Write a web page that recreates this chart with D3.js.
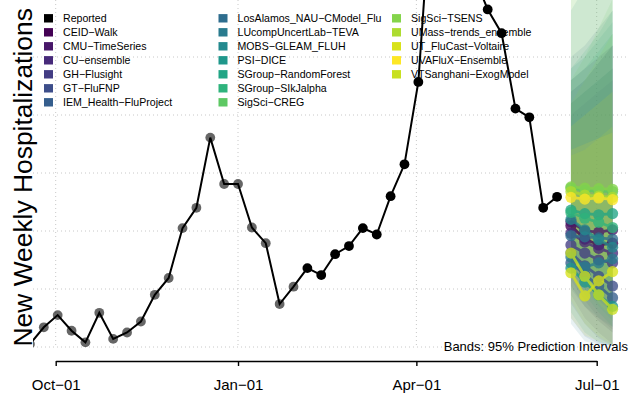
<!DOCTYPE html>
<html lang="en">
<head>
<meta charset="UTF-8">
<title>New Weekly Hospitalizations - forecasts</title>
<script src="https://d3js.org/d3.v7.min.js"></script>
<style>
  body { margin: 0; background: #fff; }
  svg { display: block; font-family: "Liberation Sans", Arial, Helvetica, sans-serif; }
</style>
</head>
<body>
<svg width="629" height="398"></svg>
<script>
// ---- data ----
const reportedDates = [
  "2022-09-18","2022-09-25","2022-10-02","2022-10-09","2022-10-16","2022-10-23","2022-10-30",
  "2022-11-06","2022-11-13","2022-11-20","2022-11-27","2022-12-04","2022-12-11","2022-12-18",
  "2022-12-25","2023-01-01","2023-01-08","2023-01-15","2023-01-22","2023-01-29","2023-02-05",
  "2023-02-12","2023-02-19","2023-02-26","2023-03-05","2023-03-12","2023-03-19","2023-03-26",
  "2023-04-02","2023-04-09","2023-04-16","2023-04-23","2023-04-30","2023-05-07","2023-05-14",
  "2023-05-21","2023-05-28","2023-06-04","2023-06-11"
];
const reportedValues = [
  105, 134, 155, 128, 108, 159, 114,
  125, 144, 190, 219, 305, 340, 461,
  381, 381, 306, 279, 174, 204, 236,
  224, 260, 274, 305, 294, 360, 415,
  557, 900, 1000, 880, 740, 682, 641,
  511, 496, 340, 359
];
const recentFrom = "2023-02-05"; // points drawn solid black from here on

const models = [
  "CEID\u2212Walk", "CMU\u2212TimeSeries", "CU\u2212ensemble", "GH\u2212Flusight", "GT\u2212FluFNP",
  "IEM_Health\u2212FluProject", "LosAlamos_NAU\u2212CModel_Flu", "LUcompUncertLab\u2212TEVA",
  "MOBS\u2212GLEAM_FLUH", "PSI\u2212DICE", "SGroup\u2212RandomForest", "SGroup\u2212SIkJalpha",
  "SigSci\u2212CREG", "SigSci\u2212TSENS", "UMass\u2212trends_ensemble", "UT_FluCast\u2212Voltaire",
  "UVAFluX\u2212Ensemble", "VTSanghani\u2212ExogModel"
];
const modelColors = [
  "#440154", "#481769", "#472A7A", "#433D84", "#3D4E8A", "#355E8D", "#2E6D8E", "#297B8E",
  "#23898E", "#1F978B", "#21A585", "#2EB37C", "#5DC863", "#84D44B", "#ADDC30", "#D8E219",
  "#FDE725", "#C8E020"
];

const forecastDates = ["2023-06-18", "2023-06-25", "2023-07-02", "2023-07-09"];
const medians = [
  [309, 286, 276, 279],
  [316, 300, 298, 302],
  [296, 281, 270, 262],
  [276, 262, 250, 245],
  [262, 240, 222, 205],
  [245, 225, 205, 185],
  [292, 290, 288, 286],
  [255, 238, 245, 252],
  [320, 302, 285, 272],
  [236, 212, 190, 170],
  [336, 330, 328, 330],
  [332, 322, 315, 306],
  [374, 370, 369, 368],
  [376, 374, 373, 372],
  [368, 362, 360, 358],
  [228, 188, 214, 230],
  [358, 355, 357, 354],
  [262, 222, 190, 165]
];
const lower95 = [
  [205, 170, 145, 125],
  [240, 205, 180, 160],
  [190, 150, 125, 105],
  [215, 180, 150, 130],
  [175, 140, 115, 102],
  [150, 118, 105, 102],
  [200, 170, 150, 135],
  [140, 110, 104, 102],
  [230, 190, 160, 135],
  [160, 125, 108, 102],
  [260, 230, 200, 180],
  [240, 200, 170, 145],
  [280, 240, 210, 190],
  [290, 250, 220, 200],
  [250, 210, 175, 150],
  [150, 120, 110, 104],
  [290, 270, 255, 240],
  [180, 140, 118, 104]
];
const upper95 = [
  [560, 580, 600, 620],
  [500, 520, 540, 560],
  [540, 560, 590, 620],
  [520, 540, 560, 580],
  [540, 560, 590, 620],
  [600, 620, 650, 680],
  [520, 540, 560, 580],
  [680, 720, 760, 800],
  [580, 600, 630, 660],
  [560, 580, 610, 640],
  [580, 610, 640, 680],
  [700, 740, 790, 840],
  [560, 600, 650, 700],
  [520, 560, 600, 640],
  [760, 800, 860, 920],
  [480, 500, 520, 540],
  [440, 450, 460, 470],
  [430, 440, 460, 480]
];

const xTicks = ["2022-10-01", "2023-01-01", "2023-04-01", "2023-07-01"];
const xTickLabels = ["Oct\u221201", "Jan\u221201", "Apr\u221201", "Jul\u221201"];
const gridValues = [100, 200, 300, 400, 500, 600, 700];

// ---- setup ----
const parse = d3.utcParse("%Y-%m-%d");
const svg = d3.select("svg");

const x = d3.scaleUtc()
  .domain([parse(xTicks[0]), parse(xTicks[3])])
  .range([55.7, 596.7]);

const y = d3.scaleLinear()
  .domain([100, 700])
  .range([347, -1]);

const plotLeft = 33, plotBottom = 347.5;

svg.append("defs").append("clipPath").attr("id", "plot")
  .append("rect")
  .attr("x", plotLeft).attr("y", -2000)
  .attr("width", 800).attr("height", 2000 + plotBottom);

// grid
const grid = svg.append("g")
  .attr("stroke", "#c8c8c8")
  .attr("stroke-width", 1)
  .attr("stroke-dasharray", "1,3");

grid.selectAll(".h").data(gridValues).enter().append("line")
  .attr("x1", plotLeft).attr("x2", 629)
  .attr("y1", d => y(d)).attr("y2", d => y(d));

grid.selectAll(".v").data(xTicks).enter().append("line")
  .attr("x1", d => x(parse(d))).attr("x2", d => x(parse(d)))
  .attr("y1", 0).attr("y2", plotBottom);

// x axis
const xAxis = d3.axisBottom(x)
  .tickValues(xTicks.map(parse))
  .tickFormat((d, i) => xTickLabels[i])
  .tickSize(5)
  .tickSizeOuter(0)
  .tickPadding(13.5);

const ax = svg.append("g")
  .attr("transform", "translate(0,361)")
  .call(xAxis);
ax.select(".domain").attr("stroke", "#000").attr("stroke-width", 1.6);
ax.selectAll(".tick line").attr("stroke", "#000").attr("stroke-width", 1.4);
ax.selectAll(".tick text")
  .attr("fill", "#000")
  .style("font-family", "Liberation Sans, Arial, sans-serif")
  .style("font-size", "15px");

// y label
svg.append("text")
  .attr("transform", "translate(31.5,346.5) rotate(-90)")
  .attr("text-anchor", "start")
  .style("font-size", "26.4px")
  .attr("fill", "#000")
  .text("New Weekly Hospitalizations");

// legend
const legendItems = [{ name: "Reported", color: "#000" }]
  .concat(models.map((m, i) => ({ name: m, color: modelColors[i] })));
const colX = [44, 218.5, 392];
const legend = svg.append("g");
const li = legend.selectAll("g").data(legendItems).enter().append("g")
  .attr("transform", (d, i) => `translate(${colX[Math.floor(i / 7)]},${18.3 + 14 * (i % 7)})`);
li.append("rect")
  .attr("x", 0).attr("y", -4.2)
  .attr("width", 9).attr("height", 8.4)
  .attr("fill", d => d.color);
li.append("text")
  .attr("x", 19).attr("y", 3.9)
  .style("font-size", "10.6px")
  .attr("fill", "#000")
  .text(d => d.name);

// plot content
const plot = svg.append("g").attr("clip-path", "url(#plot)");
const fDates = forecastDates.map(parse);

// 95% bands
const band = d3.area()
  .x((d, i) => x(fDates[i]))
  .y0(d => y(d[0]))
  .y1(d => y(d[1]));

plot.selectAll(".band").data(models).enter().append("path")
  .attr("d", (m, k) => band(lower95[k].map((lo, i) => [lo, upper95[k][i]])))
  .attr("fill", (m, k) => modelColors[k])
  .attr("fill-opacity", 0.11)
  .attr("stroke", "none");

// reported series
const rep = reportedDates.map((d, i) => ({ date: parse(d), value: reportedValues[i] }));
const line = d3.line().x(d => x(d.date)).y(d => y(d.value));

plot.append("path")
  .datum(rep)
  .attr("d", line)
  .attr("fill", "none")
  .attr("stroke", "#000")
  .attr("stroke-width", 2);

const cut = parse(recentFrom);
plot.selectAll(".pt").data(rep).enter().append("circle")
  .attr("cx", d => x(d.date))
  .attr("cy", d => y(d.value))
  .attr("r", 4.9)
  .attr("fill", "#000")
  .attr("fill-opacity", d => d.date < cut ? 0.6 : 1);

// model medians
const mline = d3.line().x((d, i) => x(fDates[i])).y(d => y(d));
models.forEach((m, k) => {
  const g = plot.append("g").attr("opacity", 0.78);
  g.append("path")
    .attr("d", mline(medians[k]))
    .attr("fill", "none")
    .attr("stroke", modelColors[k])
    .attr("stroke-width", 2.8);
  g.selectAll("circle").data(medians[k]).enter().append("circle")
    .attr("cx", (d, i) => x(fDates[i]))
    .attr("cy", d => y(d))
    .attr("r", 5.6)
    .attr("fill", modelColors[k]);
});

// note
svg.append("text")
  .attr("x", 628).attr("y", 350.5)
  .attr("text-anchor", "end")
  .style("font-size", "13px")
  .attr("fill", "#000")
  .text("Bands: 95% Prediction Intervals");
</script>
</body>
</html>
